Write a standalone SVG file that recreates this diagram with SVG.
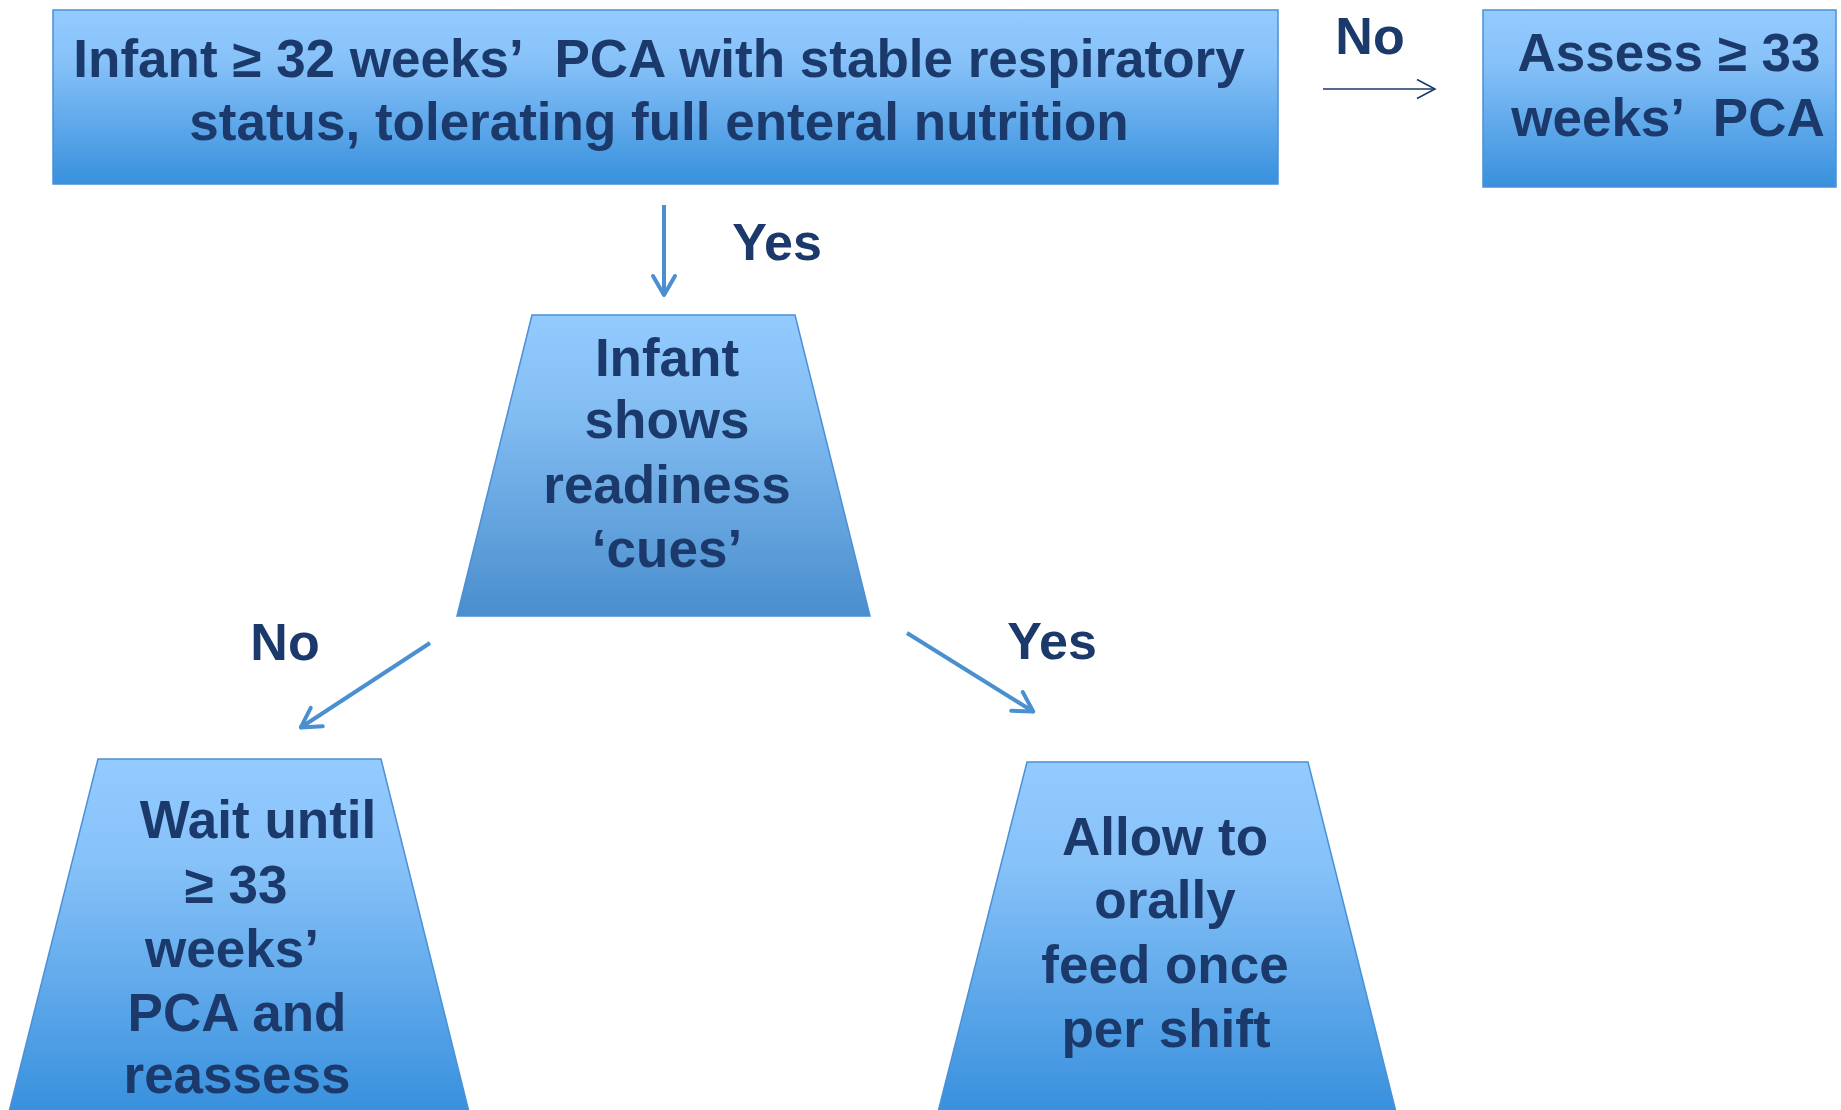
<svg xmlns="http://www.w3.org/2000/svg" width="1841" height="1110" viewBox="0 0 1841 1110">
<defs>
<linearGradient id="gBox" x1="0" y1="0" x2="0" y2="1">
<stop offset="0" stop-color="#93CBFF"/>
<stop offset="0.3" stop-color="#86C1F8"/>
<stop offset="1" stop-color="#3890DD"/>
</linearGradient>
<linearGradient id="gTrap1" x1="0" y1="0" x2="0" y2="1">
<stop offset="0" stop-color="#93CBFF"/>
<stop offset="0.3" stop-color="#84BEF3"/>
<stop offset="1" stop-color="#4A8ECD"/>
</linearGradient>
<marker id="ahBlue" markerUnits="userSpaceOnUse" markerWidth="40" markerHeight="40" viewBox="-30 -20 40 40" refX="0" refY="0" orient="auto">
<path d="M -20 -11 L -1 0 L -20 11" fill="none" stroke="#4A90D0" stroke-width="4" stroke-linecap="round" stroke-linejoin="round"/>
</marker>
<marker id="ahDark" markerUnits="userSpaceOnUse" markerWidth="40" markerHeight="40" viewBox="-30 -20 40 40" refX="0" refY="0" orient="auto">
<path d="M -18 -9.5 L 0 0 L -18 9.5" fill="none" stroke="#1B3A6B" stroke-width="1.6"/>
</marker>
</defs>
<style>
.box{stroke:#4A90D9;stroke-width:1.5}
.t{font-family:"Liberation Sans",Arial,Helvetica,sans-serif;font-weight:bold;font-size:53px;fill:#1B3A6B;text-anchor:middle}
.lbl{font-family:"Liberation Sans",Arial,Helvetica,sans-serif;font-weight:bold;font-size:52px;fill:#1B3A6B;text-anchor:middle}
.con{fill:none;stroke:#4A90D0;stroke-width:4}
.conDark{fill:none;stroke:#1B3A6B;stroke-width:1.6}
</style>
<rect width="1841" height="1110" fill="#FFFFFF"/>

<g id="node-start">
<rect class="box" x="53" y="10" width="1225" height="174" fill="url(#gBox)"/>
<text class="t" x="659" y="77">Infant ≥ 32 weeks’<tspan dx="19"> PCA with stable respiratory</tspan></text>
<text class="t" x="659" y="140">status, tolerating full enteral nutrition</text>
</g>

<g id="node-assess">
<rect class="box" x="1483" y="10" width="353" height="177" fill="url(#gBox)"/>
<text class="t" x="1669" y="71">Assess ≥ 33</text>
<text class="t" x="1668" y="136">weeks’<tspan dx="16"> PCA</tspan></text>
</g>

<g id="node-cues">
<polygon class="box" points="532,315 795,315 870,616 457,616" fill="url(#gTrap1)"/>
<text class="t" x="667" y="376">Infant</text>
<text class="t" x="667" y="438">shows</text>
<text class="t" x="667" y="503">readiness</text>
<text class="t" x="667" y="567">‘cues’</text>
</g>

<g id="node-wait">
<polygon class="box" points="98,759 381,759 469,1112 9,1112" fill="url(#gBox)"/>
<text class="t" x="258" y="838">Wait until</text>
<text class="t" x="236" y="903">≥ 33</text>
<text class="t" x="232" y="967">weeks’</text>
<text class="t" x="237" y="1031">PCA and</text>
<text class="t" x="237" y="1093">reassess</text>
</g>

<g id="node-allow">
<polygon class="box" points="1027,762 1308,762 1396,1112 938,1112" fill="url(#gBox)"/>
<text class="t" x="1165" y="855">Allow to</text>
<text class="t" x="1165" y="918">orally</text>
<text class="t" x="1165" y="983">feed once</text>
<text class="t" x="1166" y="1047">per shift</text>
</g>

<g id="connectors">
<line class="conDark" x1="1323" y1="89" x2="1435" y2="89" marker-end="url(#ahDark)"/>
<line class="con" x1="664" y1="205" x2="664" y2="296" marker-end="url(#ahBlue)"/>
<line class="con" x1="430" y1="643" x2="300" y2="728" marker-end="url(#ahBlue)"/>
<line class="con" x1="907" y1="633" x2="1034" y2="712" marker-end="url(#ahBlue)"/>
</g>

<g id="labels">
<text class="lbl" x="1370" y="54">No</text>
<text class="lbl" x="777" y="260">Yes</text>
<text class="lbl" x="285" y="660">No</text>
<text class="lbl" x="1052" y="659">Yes</text>
</g>
</svg>
